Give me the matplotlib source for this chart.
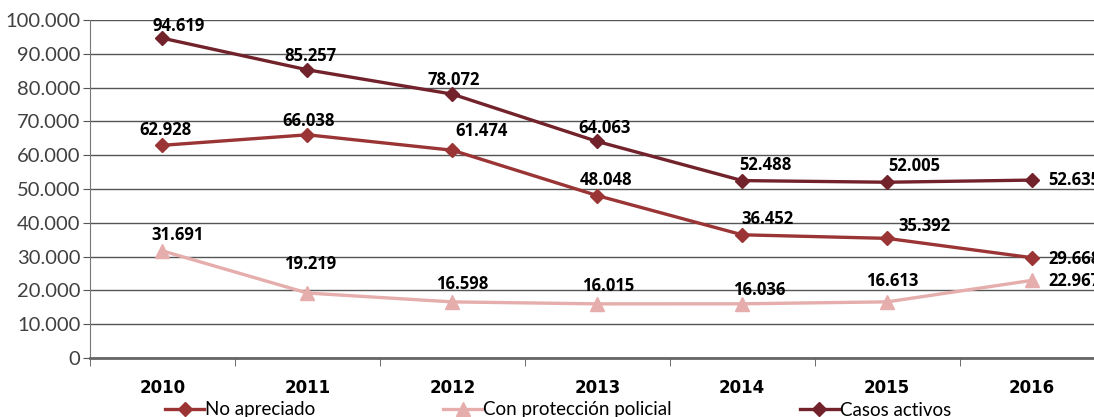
import matplotlib.pyplot as plt

years = ["2010", "2011", "2012", "2013", "2014", "2015", "2016"]
no_apreciado = [62928, 66038, 61474, 48048, 36452, 35392, 29668]
con_proteccion = [31691, 19219, 16598, 16015, 16036, 16613, 22967]
casos_activos = [94619, 85257, 78072, 64063, 52488, 52005, 52635]

# label offsets in pixels (dx, dy up) from each point; last one is left-aligned
off_no = [(3, 15), (1, 14), (29, 19), (9, 16), (25, 16), (37, 12), (16, -1)]
off_con = [(15, 16), (3, 29), (10, 18), (11, 18), (17, 14), (5, 21), (16, -1)]
off_cas = [(16, 12), (3, 14), (1, 14), (7, 13), (23, 16), (27, 16), (16, 0)]

plt.rcParams['font.family'] = ['Lato', 'DejaVu Sans']

fig = plt.figure(figsize=(10.94, 4.17), dpi=100)
ax = fig.add_axes([90 / 1094, 1 - 358 / 417, 1014.5 / 1094, 338 / 417])

x = list(range(len(years)))
series = [
    ("No apreciado", no_apreciado, "#9B3434", "D", 7.5, off_no),
    ("Con protección policial", con_proteccion, "#E5ADAB", "^", 10, off_con),
    ("Casos activos", casos_activos, "#72222A", "D", 7.5, off_cas),
]
for name, vals, color, mk, ms, offs in series:
    ax.plot(x, vals, color=color, lw=2.4, marker=mk, markersize=ms, label=name, zorder=3)
    for i, (xi, v, off) in enumerate(zip(x, vals, offs)):
        last = i == len(vals) - 1
        ax.annotate(f"{v:,}".replace(",", "."), (xi, v),
                    xytext=(off[0] * 0.72, off[1] * 0.72),
                    textcoords="offset points",
                    ha="left" if last else "center", va="center",
                    fontsize=12, fontweight="bold", family="Open Sans",
                    color="black", zorder=4, annotation_clip=False)

ax.set_xlim(-0.5, 6.5)
ax.set_ylim(0, 100000)
ax.set_yticks(range(0, 100001, 10000))
ax.set_yticklabels(["0"] + [f"{v // 1000}.000" for v in range(10000, 100001, 10000)],
                   fontsize=14.5, color="#404040")
ax.set_xticks(x)
ax.set_xticklabels(years, fontsize=12, fontweight="bold",
                   family=["Liberation Sans Narrow", "DejaVu Sans"])
ax.set_xticks([i + 0.5 for i in range(-1, 7)], minor=True)
ax.tick_params(axis="x", which="major", length=0, pad=15)
ax.tick_params(axis="x", which="minor", length=6, color="#555555", direction="out")
ax.tick_params(axis="y", length=5, color="#555555", pad=2)
ax.grid(axis="y", color="#555555", lw=1)
ax.set_axisbelow(True)
for s in ["top", "right"]:
    ax.spines[s].set_visible(False)
ax.spines["left"].set_color("#777777")
ax.spines["bottom"].set_color("#666666")
ax.spines["bottom"].set_linewidth(2)

fig.legend(loc="center left", bbox_to_anchor=(165 / 1094, 1 - 410 / 417), ncol=3,
           frameon=False, fontsize=13.5, columnspacing=6.8, handlelength=2.1,
           handletextpad=0.05, borderpad=0, borderaxespad=0)

fig.savefig("out.png", dpi=100)
